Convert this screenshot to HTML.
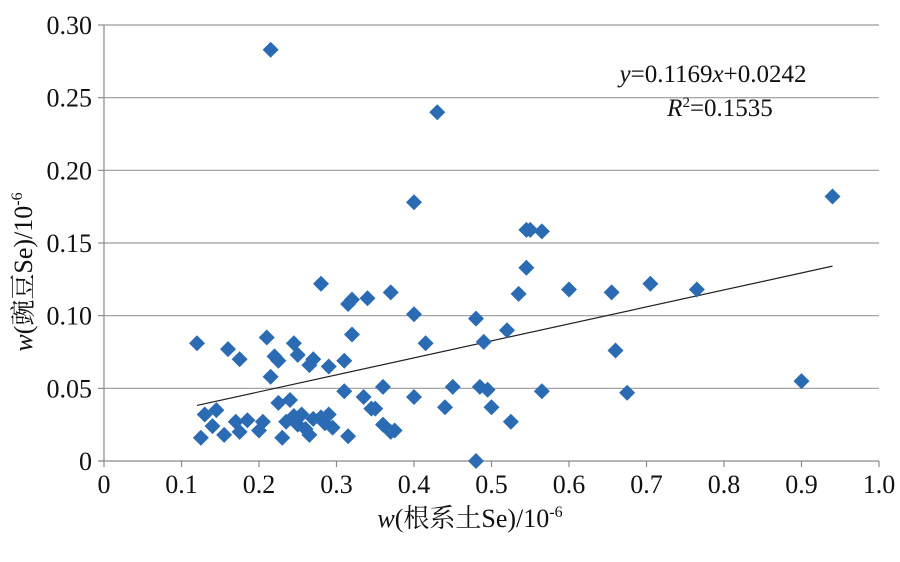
<!DOCTYPE html>
<html><head><meta charset="utf-8"><style>
html,body{margin:0;padding:0;background:#fff;}
svg text{font-family:"Liberation Serif","Noto Serif CJK SC",serif;fill:#111;}
</style></head><body>
<svg id="chart" width="900" height="557" viewBox="0 0 900 557" xmlns="http://www.w3.org/2000/svg">
<g id="grid"></g><g id="axes"></g><g id="trend"></g><g id="points"></g><g id="labels"></g>
<text x="713" y="82" font-size="25" text-anchor="middle"><tspan font-style="italic">y</tspan>=0.1169<tspan font-style="italic">x</tspan>+0.0242</text>
<text x="720" y="116" font-size="25" text-anchor="middle"><tspan font-style="italic">R</tspan><tspan font-size="15" dy="-9">2</tspan><tspan dy="9">=0.1535</tspan></text>
<text x="470" y="527" font-size="26" text-anchor="middle"><tspan font-style="italic">w</tspan>(根系土Se)/10<tspan font-size="16" dy="-10">-6</tspan></text>
<text transform="translate(32,272) rotate(-90)" font-size="26" text-anchor="middle"><tspan font-style="italic">w</tspan>(豌豆Se)/10<tspan font-size="16" dy="-10">-6</tspan></text>
</svg>
<script>
const xTicks=[0,0.1,0.2,0.3,0.4,0.5,0.6,0.7,0.8,0.9,1.0];
const xTickLabels=["0","0.1","0.2","0.3","0.4","0.5","0.6","0.7","0.8","0.9","1.0"];
const yTicks=[0,0.05,0.10,0.15,0.20,0.25,0.30];
const yTickLabels=["0","0.05","0.10","0.15","0.20","0.25","0.30"];
const slope=0.1169, intercept=0.0242, trendStart=0.12, trendEnd=0.94;
const xVals=[0.215,0.43,0.40,0.94,0.545,0.55,0.565,0.545,0.60,0.655,0.705,0.765,0.535,0.52,0.37,0.34,0.32,0.315,0.28,0.40,0.415,0.48,0.49,0.66,0.675,0.90,0.32,0.12,0.16,0.175,0.21,0.22,0.225,0.245,0.25,0.265,0.27,0.29,0.31,0.215,0.36,0.40,0.45,0.485,0.495,0.565,0.31,0.335,0.44,0.345,0.35,0.50,0.525,0.48,0.36,0.37,0.375,0.125,0.13,0.14,0.145,0.155,0.17,0.175,0.185,0.20,0.205,0.225,0.23,0.235,0.24,0.245,0.25,0.255,0.26,0.265,0.27,0.28,0.285,0.29,0.295,0.315];
const yVals=[0.283,0.240,0.178,0.182,0.159,0.159,0.158,0.133,0.118,0.116,0.122,0.118,0.115,0.090,0.116,0.112,0.111,0.108,0.122,0.101,0.081,0.098,0.082,0.076,0.047,0.055,0.087,0.081,0.077,0.070,0.085,0.072,0.069,0.081,0.073,0.066,0.070,0.065,0.069,0.058,0.051,0.044,0.051,0.051,0.049,0.048,0.048,0.044,0.037,0.036,0.036,0.037,0.027,0.0,0.025,0.020,0.021,0.016,0.032,0.024,0.035,0.018,0.027,0.020,0.028,0.021,0.027,0.040,0.016,0.027,0.042,0.031,0.025,0.032,0.022,0.018,0.029,0.030,0.026,0.032,0.023,0.017];
const NS="http://www.w3.org/2000/svg";
const X0=104,X1=879,Y0=461,Y1=25;
function sx(v){return X0+(X1-X0)*v/1.0;}
function sy(v){return Y0-(Y0-Y1)*v/0.30;}
function mk(tag,attrs,parent){const e=document.createElementNS(NS,tag);for(const k in attrs)e.setAttribute(k,attrs[k]);parent.appendChild(e);return e;}
const grid=document.getElementById('grid'),axes=document.getElementById('axes'),labels=document.getElementById('labels'),pts=document.getElementById('points'),trend=document.getElementById('trend');
yTicks.forEach((t,i)=>{
  if(t>0){const l=mk('line',{x1:X0,x2:X1,y1:sy(t),y2:sy(t),stroke:'#9a9a9a','stroke-width':1.2},grid);
  
  }
  const tk=mk('line',{x1:X0-6,x2:X0,y1:sy(t),y2:sy(t),stroke:'#8a8a8a','stroke-width':1.2},axes);
  
  
  const tx=mk('text',{x:X0-12,y:sy(t)+9,'font-size':26,'text-anchor':'end'},labels);
  tx.textContent=yTickLabels[i];
  
  
});
const ya=mk('line',{x1:X0,x2:X0,y1:Y1,y2:Y0,stroke:'#8a8a8a','stroke-width':1.2},axes);


const xa=mk('line',{x1:X0-6,x2:X1,y1:Y0,y2:Y0,stroke:'#8a8a8a','stroke-width':1.2},axes);


xTicks.forEach((t,i)=>{
  const tk=mk('line',{x1:sx(t),x2:sx(t),y1:Y0,y2:Y0+6,stroke:'#8a8a8a','stroke-width':1.2},axes);
  
  
  const tx=mk('text',{x:sx(t),y:Y0+32,'font-size':26,'text-anchor':'middle'},labels);
  tx.textContent=xTickLabels[i];
  
  
});
const tl=mk('line',{x1:sx(trendStart),y1:sy(slope*trendStart+intercept),x2:sx(trendEnd),y2:sy(slope*trendEnd+intercept),stroke:'#222','stroke-width':1.2},trend);


const r=8;
xVals.forEach((xv,i)=>{
  const cx=sx(xv),cy=sy(yVals[i]);
  const p=mk('polygon',{points:`${cx},${cy-r} ${cx+r},${cy} ${cx},${cy+r} ${cx-r},${cy}`,fill:'#2a6bb4'},pts);
  
  
});
</script>
</body></html>
